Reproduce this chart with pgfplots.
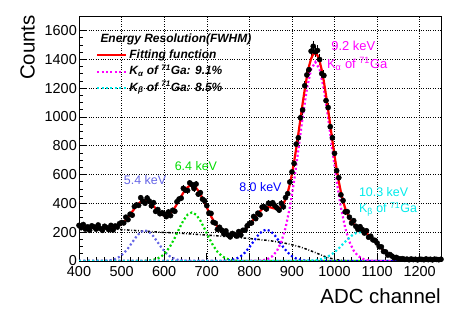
\documentclass[border=0pt]{standalone}
\usepackage{pgfplots}
\pgfplotsset{compat=1.18}
\usepackage{pgfplotstable}
\usepackage{fontspec}
\setmainfont{Liberation Sans}

\definecolor{cfs}{RGB}{102,102,230}
\definecolor{cfg}{RGB}{0,220,0}
\definecolor{cfb}{RGB}{0,0,255}
\definecolor{cka}{RGB}{255,0,255}
\definecolor{ckb}{RGB}{0,235,235}

\pgfplotstableread{
x y fit
400 247 238
405 231 237
410 253 236
415 221 235
420 237 234
425 213 233
430 244 232
435 237 231
440 221 230
445 250 229
450 225 228.5
455 213 227.8
460 241 227.4
465 232 227.4
470 217 227.9
475 247 229.1
480 215 231.4
485 243 235.0
490 236 240.4
495 259 247.8
500 267 257.7
505 264 270.1
510 304 285.2
515 287 302.5
520 325 321.8
525 318 342.2
530 378 362.5
535 389 381.6
540 386 398.3
545 439 411.0
550 415 418.8
555 401 421.3
560 437 418.1
565 416 409.9
570 383 397.3
575 405 381.8
580 344 364.7
585 357 348.0
590 328 333.3
595 335 322.0
600 326 315.6
605 308 314.9
610 340 320.2
615 315 331.5
620 352 348.4
625 345 370.0
630 411 394.9
635 430 421.8
640 436 448.8
645 504 473.9
650 491 495.3
655 489 511.7
660 542 521.7
665 531 524.3
670 503 519.2
675 534 506.9
680 464 487.9
685 474 463.5
690 429 434.9
695 418 403.9
700 384 372.0
705 333 340.7
710 330 311.0
715 269 283.9
720 263 260.0
725 219 239.3
730 234 222.3
735 214 208.5
740 189 197.7
745 209 189.6
750 181 183.9
755 167 180.6
760 191 179.1
765 184 179.9
770 173 182.6
775 204 187.8
780 180 195.3
785 213 205.5
790 214 218.2
795 244 233.4
800 260 251.0
805 264 270.2
810 309 290.1
815 294 310.1
820 332 328.8
825 321 345.3
830 374 358.6
835 376 367.9
840 361 373.0
845 401 373.8
850 398 371.6
855 404 367.6
860 383 364.1
865 368 362.6
870 353 366.0
875 400 377.1
880 376 397.7
885 440 429.3
890 467 473.8
895 548 532.0
900 618 603.7
905 677 687.0
910 811 780.7
915 855 882.1
920 994 987.3
925 1048 1090.9
930 1216 1188.8
935 1291 1277.0
940 1328 1350.1
945 1456 1403.8
950 1490 1435.5
955 1452 1443.3
960 1461 1426.9
965 1398 1386.8
970 1300 1325.1
975 1287 1245.1
980 1113 1150.7
985 1065 1048.8
990 932 941.6
995 855 834.6
1000 747 730.9
1005 627 636.8
1010 578 552.1
1015 459 478.3
1020 420 416.1
1025 341 366.2
1030 342 327.2
1035 304 296.7
1040 264 273.9
1045 280 257.3
1050 241 244.6
1055 219 234.1
1060 238 224.6
1065 219 215.0
1070 194 204.5
1075 210 192.9
1080 165 180.0
1085 172 165.8
1090 147 150.6
1095 143 134.8
1100 125 118.8
1105 99 103.2
1110 98 87.9
1115 66 74.0
1120 63 61.2
1125 41 49.9
1130 45 39.9
1135 34 31.5
1140 21 24.4
1145 25 18.6
1150 17 14.0
1155 14 10.3
1160 16 7.5
1165 11 5.3
1170 13 3.7
1175 9 2.6
1180 14 1.8
1185 10 1.2
1190 12 0.8
1195 8 0.5
1200 13 0.3
1205 11 0.2
1210 9 0.1
1215 14 0.1
1220 10 0
1225 12 0
1230 8 0
1235 13 0
1240 11 0
1245 9 0
1250 12 0
}\datatab

\begin{document}
\begin{tikzpicture}
\useasboundingbox (0,0) rectangle (463bp,315bp);
\begin{axis}[
  at={(79bp,54bp)}, anchor=south west,
  width=362bp, height=245bp, scale only axis,
  xmin=400, xmax=1250, ymin=0, ymax=1700,
  xtick={400,500,...,1200}, ytick={0,200,...,1600},
  minor x tick num=4, minor y tick num=3,
  tick pos=left, tick align=inside,
  major tick length=8bp, minor tick length=4bp,
  grid=major, grid style={black, dotted, line width=0.5pt},
  axis line style={line width=0.8pt},
  tick style={black, line width=0.6pt},
  /pgf/number format/assume math mode=true,
  /pgf/number format/1000 sep={},
  tick label style={font=\fontsize{14.5}{16}\selectfont},
  xticklabel style={inner xsep=1.5bp, inner ysep=0pt, yshift=-5.5bp},
  yticklabel style={inner xsep=2bp, inner ysep=0pt},
  every axis x label/.style={at={(axis description cs:1,0)}, anchor=base east, yshift=-42bp, inner sep=0pt, font=\fontsize{20.5}{22}\selectfont},
  every axis y label/.style={at={(axis description cs:-0.1215,1.004)}, rotate=90, anchor=south east, inner sep=0pt, font=\fontsize{20.5}{22}\selectfont},
  xlabel={ADC channel}, ylabel={Counts},
  legend image code/.code={\draw[#1] (0bp,0bp) -- (29bp,0bp);},
  legend style={at={(rel axis cs:0.047,0.8735)}, anchor=north west, draw=none, fill=none, inner sep=0pt,
    font=\fontsize{12}{14}\selectfont\bfseries\itshape,
    nodes={inner sep=2bp, text height=9.2bp, text depth=3.2bp}, row sep=0pt},
  legend cell align=left,
]
% data points
\addplot[forget plot, only marks, mark=*, mark size=2.6pt, black, mark options={fill=black, draw=black},
  error bars/.cd, y dir=both, y explicit, error mark=none, error bar style={black, line width=0.8pt}]
  table[x=x, y=y, y error expr={sqrt(\thisrow{y})}] {\datatab};

% background
\addplot[forget plot, black, line width=1.5pt, dash pattern=on 2.5pt off 1.8pt on 0.8pt off 1.8pt] coordinates {
(400,238)(420,234)(440,230)(460,226)(480,222)(500,218)(520,214)(540,210)(560,206)(580,202)(600,198)
(620,195)(640,192)(660,188)(680,184)(700,180)(720,176)(740,171)(760,166)(780,161)(800,156)(820,150)
(840,144)(860,136)(880,126)(900,113)(920,97)(940,76)(960,52)(980,28)(1000,11)(1020,3)(1040,0)};

% 5.4 keV
\addplot[forget plot, cfs, line width=2.2pt, dash pattern=on 2pt off 2.4pt] coordinates {
(400,0)(455,0.8)(465,2.4)(475,6.1)(485,14.0)(495,28.8)(505,53.1)(515,87.5)(525,129.2)(535,170.6)(545,201.5)
(555,213)(565,201.5)(575,170.6)(585,129.2)(595,87.5)(605,53.1)(615,28.8)(625,14.0)(635,6.1)(645,2.4)(655,0.8)(1250,0)};

% 6.4 keV
\addplot[forget plot, cfg, line width=2.2pt, dash pattern=on 2pt off 2.4pt] coordinates {
(400,0)(545,0.5)(555,1.3)(565,3.4)(575,8.2)(585,17.8)(595,35.5)(605,64.5)(615,106.9)(625,161.7)(635,222.9)
(645,280.5)(655,321.9)(665,337)(675,321.9)(685,280.5)(695,222.9)(705,161.7)(715,106.9)(725,64.5)(735,35.5)
(745,17.8)(755,8.2)(765,3.4)(775,1.3)(785,0.5)(1250,0)};

% 8.0 keV
\addplot[forget plot, cfb, line width=2.2pt, dash pattern=on 2pt off 2.4pt] coordinates {
(400,0)(730,0.4)(740,1.2)(750,3.2)(760,7.8)(770,17.0)(780,33.5)(790,59.4)(800,94.8)(810,136.5)(820,177.0)
(830,207.0)(840,218)(850,207)(860,177)(870,136.5)(880,94.8)(890,59.4)(900,33.5)(910,17.0)(920,7.8)
(930,3.2)(940,1.2)(950,0.4)(1250,0)};

% K alpha
\addplot[forget plot, cka, line width=2.2pt, dash pattern=on 2pt off 2.4pt] coordinates {
(400,0)(815,1.1)(825,2.9)(835,7.2)(845,16.6)(855,35.7)(865,71.6)(875,133.3)(885,230.5)(895,370.5)(905,553.8)
(915,769.4)(925,993.5)(935,1192.5)(945,1330.5)(955,1380)(965,1330.5)(975,1192.5)(985,993.5)(995,769.4)
(1005,553.8)(1015,370.5)(1025,230.5)(1035,133.3)(1045,71.6)(1055,35.7)(1065,16.6)(1075,7.2)(1085,2.9)(1095,1.1)(1250,0)};

% K beta
\addplot[forget plot, ckb, line width=2.2pt, dash pattern=on 2pt off 2.4pt] coordinates {
(400,0)(920,0.3)(930,0.8)(940,1.8)(950,3.7)(960,7.5)(970,14.0)(980,24.4)(990,39.9)(1000,61.2)(1010,87.9)
(1020,118.2)(1030,148.8)(1040,175.4)(1050,193.5)(1060,200)(1070,193.5)(1080,175.4)(1090,148.8)(1100,118.2)
(1110,87.9)(1120,61.2)(1130,39.9)(1140,24.4)(1150,14.0)(1160,7.5)(1170,3.7)(1180,1.8)(1190,0.8)(1200,0.3)(1250,0)};

% total fit
\addplot[forget plot, red, line width=2.2pt] table[x=x, y=fit] {\datatab};

\addlegendimage{red, line width=2.2pt}
\addlegendentry{Fitting function}
\addlegendimage{cka, line width=2.2pt, dash pattern=on 2pt off 2.4pt}
\addlegendentry{K\textsubscript{α} of \textsuperscript{71}Ga: 9.1\%}
\addlegendimage{ckb, line width=2.2pt, dash pattern=on 2pt off 2.4pt}
\addlegendentry{K\textsubscript{β} of \textsuperscript{71}Ga: 8.5\%}

\node[anchor=base west, font=\fontsize{12}{14}\selectfont\bfseries\itshape] at (rel axis cs:0.0497,0.890) {Energy Resolution(FWHM)};

\node[anchor=base west, text=cka, font=\fontsize{13}{15}\selectfont, inner sep=0pt] at (axis cs:992,1461) {9.2 keV};
\node[anchor=base west, text=cka, font=\fontsize{13}{15}\selectfont, inner sep=0pt] at (axis cs:982,1337) {K\textsubscript{α} of \textsuperscript{71}Ga};
\node[anchor=base west, text=cfs, font=\fontsize{12.5}{15}\selectfont, inner sep=0pt] at (axis cs:505,533) {5.4 keV};
\node[anchor=base west, text=cfg, font=\fontsize{12.5}{15}\selectfont, inner sep=0pt] at (axis cs:624.5,630) {6.4 keV};
\node[anchor=base west, text=cfb, font=\fontsize{12.5}{15}\selectfont, inner sep=0pt] at (axis cs:776,480) {8.0 keV};
\node[anchor=base west, text=ckb, font=\fontsize{12.5}{15}\selectfont, inner sep=0pt] at (axis cs:1057,445) {10.3 keV};
\node[anchor=base west, text=ckb, font=\fontsize{12.5}{15}\selectfont, inner sep=0pt] at (axis cs:1057,336) {K\textsubscript{β} of \textsuperscript{71}Ga};
\end{axis}
\end{tikzpicture}
\end{document}
